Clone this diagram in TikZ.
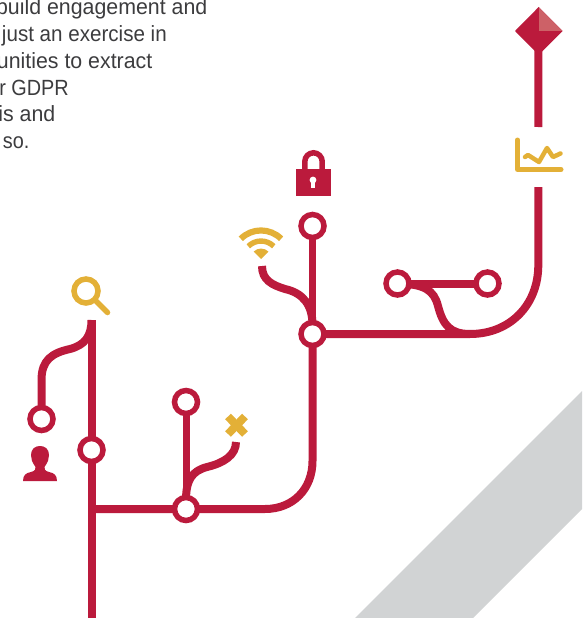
\documentclass[tikz,border=0pt]{standalone}
\usepackage{fontspec}
\setmainfont[FakeStretch=0.97]{Liberation Sans}
\definecolor{rail}{HTML}{BB1A3C}
\definecolor{gold}{HTML}{E3B037}
\definecolor{band}{HTML}{D1D3D4}
\definecolor{ink}{HTML}{3C3C3E}
\definecolor{pale}{HTML}{CD6167}
\tikzset{
  railline/.style={draw=rail,line width=8pt},
  thinrail/.style={draw=rail,line width=7pt},
  stopnode/.style={circle,draw=rail,fill=white,line width=5.5pt,minimum size=23pt,inner sep=0pt},
  goldline/.style={draw=gold,line width=5.5pt},
  copyline/.style={anchor=base east,inner sep=0pt,text=ink,font=\fontsize{22}{26}\selectfont}
}
\begin{document}
\begin{tikzpicture}[x=1pt,y=-1pt]
\useasboundingbox (0,0) rectangle (582,618);
\fill[band] (355,618) -- (582,391) -- (582,509) -- (473,618) -- cycle;
% text
\begin{scope}
\clip (0,0) rectangle (582,618);
\node[copyline] (t1) at (207.5,15) {build engagement and};
\node[copyline,xscale=0.965,transform shape] (t2) at (167,41.7) {just an exercise in};
\node[copyline] (t3) at (152.5,68.3) {unities to extract};
\node[copyline,xscale=0.93,transform shape] (t4) at (69,95.3) {r GDPR};
\node[copyline] (t5) at (55.5,121.7) {is and};
\node[copyline,xscale=0.93,transform shape] (t6) at (29.5,148.3) {so.};
\end{scope}
% anchors
\coordinate (topL) at (91.5,320);
\coordinate (botL) at (91.5,618);
\coordinate (bend1) at (265,509);
\coordinate (stemTop) at (538.3,187);
\coordinate (wifiEnd) at (262,266);
\coordinate (crossEnd) at (236,442);
\coordinate (dia) at (538.5,31);
\coordinate (stemBot) at (538.3,127);
% nodes positions
\coordinate (pA) at (91.5,450);
\coordinate (pB) at (41.5,419);
\coordinate (pC) at (186,509);
\coordinate (pD) at (186,402);
\coordinate (pE) at (312.5,334);
\coordinate (pF) at (312.5,226);
\coordinate (pG) at (397.5,283.5);
\coordinate (pH) at (487.5,283.5);
% rails
\draw[railline] (topL) -- (botL);
\draw[railline] (91.5,509) -- (bend1) .. controls (293,509) and (312.5,489) .. (312.5,461) -- (pE);
\draw[thinrail] (pE) -- (pF);
\draw[railline] (pE) -- (470,334) .. controls (510,334) and (538.3,305) .. (538.3,265) -- (stemTop);
\draw[railline] (dia) -- (stemBot);
\draw[railline] (topL) .. controls (91.5,336) and (85,345) .. (70,349) .. controls (52,353) and (41.5,360) .. (41.5,380) -- (pB);
\draw[thinrail] (pC) -- (pD);
\draw[railline] (crossEnd) .. controls (236,455) and (224,463) .. (207,467) .. controls (192,471) and (186,480) .. (186,500);
\draw[railline] (wifiEnd) .. controls (262,280) and (272,285) .. (285,289) .. controls (303,293) and (312.5,305) .. (312.5,325);
\draw[railline] (pG) -- (pH);
\draw[railline] (pG) .. controls (424,284) and (434,290) .. (438,306) .. controls (443,325) and (450,334) .. (470,334);
% stops
\node[stopnode] (sA) at (pA) {};
\node[stopnode] (sB) at (pB) {};
\node[stopnode] (sC) at (pC) {};
\node[stopnode] (sD) at (pD) {};
\node[stopnode] (sE) at (pE) {};
\node[stopnode] (sF) at (pF) {};
\node[stopnode] (sG) at (pG) {};
\node[stopnode] (sH) at (pH) {};
% diamond
\fill[rail] (538.7,7) -- (562.7,31) -- (538.7,55) -- (515,31) -- cycle;
\fill[pale] (539,7.5) -- (562.3,31) -- (539,31) -- cycle;
% chart icon
\draw[goldline,line cap=round,line join=round,line width=5pt] (517.5,140) -- (517.5,169.5) -- (561,169.5);
\draw[goldline,line cap=round,line join=round,line width=4.5pt] (525,157) -- (528,155) -- (539,162) -- (547,148) -- (553,157) -- (560.5,153.5);
% lock
\fill[rail] (296,169) rectangle (331,196);
\draw[rail,line width=5.5pt] (304.8,170) -- (304.8,161.5) arc[start angle=180,end angle=360,radius=8.7] -- (322.2,170);
\fill[white] (313,180) circle (3.4);
\fill[white] (311.4,181) rectangle (314.6,188);
% wifi
\draw[gold,line width=6.2pt] (240.8,238.8) arc[start angle=225,end angle=315,radius=28.5];
\draw[gold,line width=5.4pt] (248.3,246.3) arc[start angle=225,end angle=315,radius=18];
\fill[gold] (261,259) -- (253.6,251.6) arc[start angle=225,end angle=315,radius=10.5] -- cycle;
% magnifier
\draw[goldline] (86,291) circle (12);
\draw[goldline,line cap=round] (95,300) -- (107.5,312.5);
% cross
\draw[gold,line width=8pt] (228,416.5) -- (245,434);
\draw[gold,line width=8pt] (245,416.5) -- (228,434);
% person
\fill[rail] (23,481) .. controls (23,475) and (26,473) .. (31,472) .. controls (35,471) and (36,469) .. (35.5,467) .. controls (32,462) and (31,459) .. (31,455) .. controls (31,449) and (35,446) .. (40,446) .. controls (45,446) and (49,449) .. (49,455) .. controls (49,459) and (48,462) .. (44.5,467) .. controls (44,469) and (45,471) .. (49,472) .. controls (54,473) and (57,475) .. (57,481) -- cycle;
\end{tikzpicture}
\end{document}
